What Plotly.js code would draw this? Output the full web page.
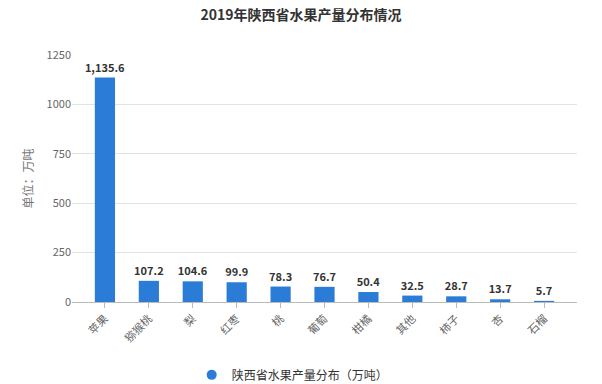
<!DOCTYPE html>
<html><head><meta charset="utf-8">
<script src="https://cdn.plot.ly/plotly-3.0.1.min.js"></script>
<style>html,body{margin:0;padding:0;background:#fff}#c{width:602px;height:384px}</style>
</head><body><div id="c"></div>
<script>
const categories = ["苹果","猕猴桃","梨","红枣","桃","葡萄","柑橘","其他","柿子","杏","石榴"];
const values = [1135.6,107.2,104.6,99.9,78.3,76.7,50.4,32.5,28.7,13.7,5.7];
const yTicks = [0,250,500,750,1000,1250];
const seriesName = "陕西省水果产量分布（万吨）";
const font = "'Noto Sans CJK SC', 'Noto Sans', sans-serif";
const barColor = "#2b7cd6";

const traces = [
  {type:'bar', x:categories, y:values, width:0.46, marker:{color:barColor},
   text:values, texttemplate:'<b>%{y:,.1f}</b>', textposition:'outside', cliponaxis:false,
   constraintext:'none',
   textfont:{family:font, size:11, color:'#333'}, showlegend:false, hoverinfo:'x+y'},
  {type:'scatter', x:[null], y:[null], mode:'markers', name:seriesName,
   marker:{color:barColor, size:10, symbol:'circle'}, showlegend:true}
];
const layout = {
  width:602, height:384,
  margin:{l:72, r:25, t:55, b:82, autoexpand:false},
  paper_bgcolor:'#fff', plot_bgcolor:'#fff',
  font:{family:font, color:'#666', size:11},
  title:{text:'<b>2019年陕西省水果产量分布情况</b>', x:0.5, xanchor:'center', y:0.96, yanchor:'middle',
         font:{family:font, size:14, color:'#333'}},
  xaxis:{type:'category', range:[-0.75,10.75], tickangle:-45, showgrid:false, zeroline:false,
         automargin:false,
         showline:true, linecolor:'#bbb', ticks:'outside', ticklen:5, tickcolor:'#bbb',
         tickfont:{family:font, size:11, color:'#666'}},
  yaxis:{range:[0,1250], tickvals:yTicks, ticktext:yTicks.map(String), showgrid:true, gridcolor:'#e3e3e3',
         automargin:false,
         zeroline:false, showline:false, tickfont:{family:font, size:11, color:'#666'},
         title:{text:'单位：万吨', font:{family:font, size:12, color:'#777'}, standoff:10}},
  legend:{orientation:'h', x:0.437, xanchor:'center', y:-0.295, yanchor:'middle',
          font:{family:font, size:12, color:'#333'}},
  bargap:0.5
};
Plotly.newPlot('c', traces, layout, {displayModeBar:false, staticPlot:true});
</script></body></html>
